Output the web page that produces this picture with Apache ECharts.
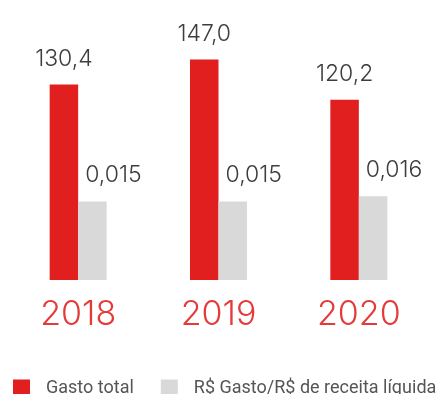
<!DOCTYPE html>
<html>
<head>
<meta charset="utf-8">
<script src="https://cdn.jsdelivr.net/npm/echarts@6/dist/echarts.min.js"></script>
<style>
  html, body { margin: 0; padding: 0; background: #fff; }
  #chart { width: 441px; height: 394px; }
</style>
</head>
<body>
<div id="chart"></div>
<script>
// Yearly spend and spend per unit of net revenue
const years = ['2018', '2019', '2020'];
const gastoTotal = [130.4, 147.0, 120.2];
const gastoPorReceita = [0.015, 0.015, 0.016];
const seriesNames = ['Gasto total', 'R$ Gasto/R$ de receita líquida'];

const fmt = (v, d) => v.toFixed(d).replace('.', ',');

const chart = echarts.init(document.getElementById('chart'), null, { renderer: 'canvas' });

const labelFont = {
  fontFamily: 'Inter',
  fontWeight: 300,
  fontSize: 23,
  color: '#3d3d3d'
};

chart.setOption({
  animation: false,
  backgroundColor: '#ffffff',
  grid: { left: 8, right: 12, top: 55, bottom: 114 },
  legend: {
    left: 13,
    top: 379,
    width: 470,
    padding: 0,
    itemWidth: 17,
    itemHeight: 17,
    itemGap: 27,
    icon: 'rect',
    textStyle: {
      fontFamily: 'Roboto',
      fontSize: 18,
      color: '#555555',
      padding: [0, 0, 0, 11]
    },
    data: seriesNames
  },
  xAxis: {
    type: 'category',
    data: years,
    axisLine: { show: false },
    axisTick: { show: false },
    axisLabel: {
      margin: 18,
      fontFamily: 'Inter',
      fontWeight: 300,
      fontSize: 34,
      color: '#e53a3a'
    }
  },
  yAxis: [
    { type: 'value', min: 0, max: 150, show: false },
    { type: 'value', min: 0, max: 0.043, show: false }
  ],
  series: [
    {
      name: seriesNames[0],
      type: 'bar',
      yAxisIndex: 0,
      data: gastoTotal,
      barWidth: 28.5,
      barGap: '0%',
      itemStyle: { color: '#e11f1f' },
      label: {
        show: true,
        position: 'top',
        distance: 14,
        formatter: p => fmt(p.value, 1),
        ...labelFont
      }
    },
    {
      name: seriesNames[1],
      type: 'bar',
      yAxisIndex: 1,
      data: gastoPorReceita,
      barWidth: 28.5,
      barGap: '0%',
      itemStyle: { color: '#d9d9d9' },
      label: {
        show: true,
        position: 'top',
        distance: 15,
        offset: [21, 0],
        formatter: p => fmt(p.value, 3),
        ...labelFont
      }
    }
  ]
});
</script>
</body>
</html>
